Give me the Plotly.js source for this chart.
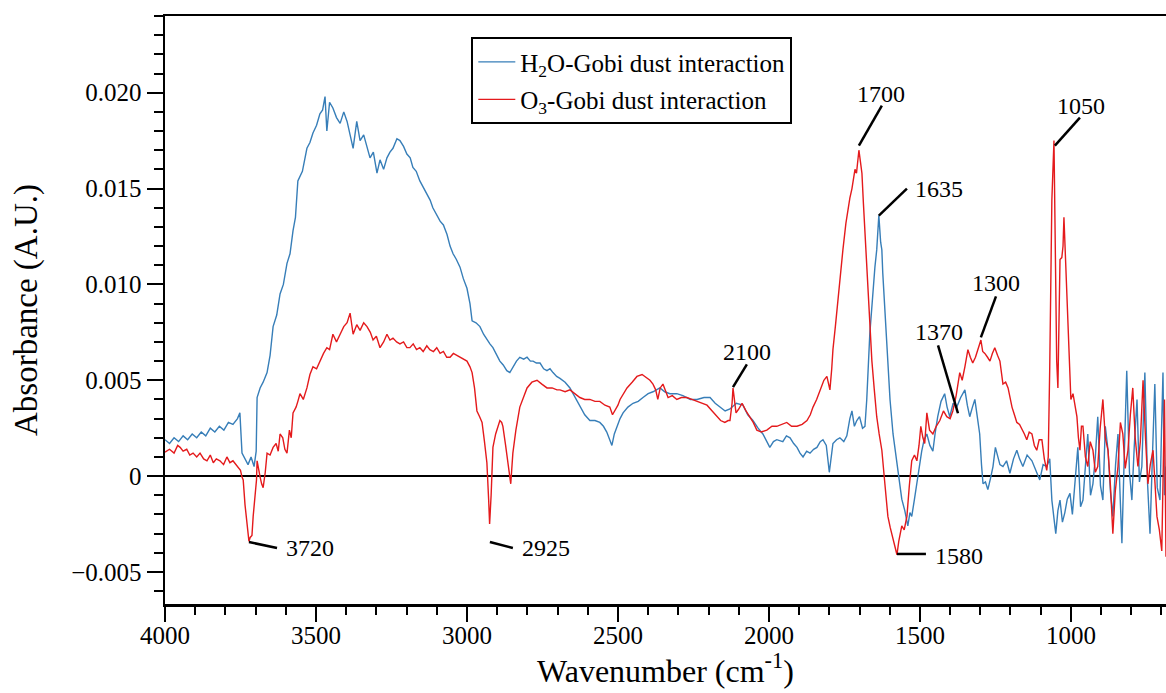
<!DOCTYPE html>
<html>
<head>
<meta charset="utf-8">
<script src="https://cdn.plot.ly/plotly-3.0.1.min.js"></script>
<style>
html,body{margin:0;padding:0;background:#fff;}
#chart{width:1166px;height:693px;}
</style>
</head>
<body>
<div id="chart"></div>
<script>
// H2O-Gobi dust interaction spectrum (wavenumber, absorbance)
var wnH2O = [
4000,3985,3970,3955,3940,3925,3910,3895,3880,3865,
3850,3835,3820,3805,3790,3775,3760,3752,3745,3735,
3725,3715,3705,3698,3695,3685,3675,3662,3652,3642,
3630,3619,3608,3596,3586,3576,3568,3560,3545,3530,
3520,3510,3498,3487,3478,3470,3464,3455,3444,3432,
3420,3408,3397,3387,3377,3365,3354,3342,3331,3321,
3310,3298,3288,3276,3265,3255,3245,3232,3222,3210,
3199,3188,3179,3168,3156,3145,3132,3122,3113,3100,
3089,3078,3066,3056,3046,3035,3023,3012,3000,2990,
2983,2970,2957,2945,2934,2924,2914,2902,2891,2880,
2868,2858,2848,2836,2825,2812,2801,2790,2781,2770,
2758,2746,2735,2725,2715,2703,2692,2675,2659,2642,
2626,2610,2593,2576,2560,2548,2537,2528,2520,2512,
2503,2493,2483,2467,2450,2433,2417,2400,2384,2372,
2361,2345,2328,2305,2285,2260,2238,2215,2195,2178,
2162,2145,2129,2108,2086,2070,2053,2036,2020,2008,
1997,1985,1974,1954,1942,1930,1918,1907,1897,1887,
1875,1864,1852,1841,1830,1821,1810,1800,1795,1788,
1776,1765,1752,1742,1732,1725,1717,1709,1700,1690,
1682,1676,1666,1656,1649,1643,1636,1630,1626,1623,
1617,1610,1605,1599,1589,1581,1573,1566,1560,1550,
1545,1540,1533,1527,1518,1510,1502,1494,1486,1477,
1467,1457,1449,1441,1430,1418,1410,1401,1390,1378,
1365,1351,1343,1335,1326,1318,1310,1302,1296,1291,
1283,1275,1266,1258,1250,1245,1235,1225,1213,1202,
1190,1179,1170,1159,1145,1129,1115,1103,1092,1080,
1070,1063,1056,1050,1043,1036,1028,1020,1012,1003,
995,987,977,968,960,952,944,935,927,919,
911,902,894,886,877,869,861,852,844,837,
831,823,815,806,798,790,781,773,765,760,
755,746,738,730,722,714,705,700,695,690,
685];
var absH2O = [
0.0019,0.0017,0.0020,0.0018,0.0021,0.0019,0.0022,0.0020,0.0023,0.0021,
0.0025,0.0023,0.0026,0.0024,0.0028,0.0027,0.0030,0.0033,0.0012,0.0009,
0.0006,0.0010,0.0005,0.0013,0.0041,0.0046,0.0049,0.0054,0.0063,0.0078,
0.0084,0.0095,0.0100,0.0111,0.0116,0.0128,0.0135,0.0154,0.0159,0.0171,
0.0174,0.0179,0.0183,0.0189,0.0191,0.0198,0.0180,0.0195,0.0192,0.0187,
0.0184,0.0190,0.0185,0.0178,0.0171,0.0185,0.0175,0.0178,0.0171,0.0166,
0.0169,0.0158,0.0165,0.0160,0.0166,0.0169,0.0171,0.0176,0.0175,0.0172,
0.0168,0.0166,0.0161,0.0159,0.0154,0.0151,0.0147,0.0144,0.0140,0.0136,
0.0133,0.0131,0.0126,0.0120,0.0116,0.0113,0.0109,0.0103,0.0098,0.0090,
0.0081,0.0080,0.0078,0.0074,0.0071,0.0069,0.0067,0.0063,0.0060,0.0058,
0.0055,0.0054,0.0057,0.0060,0.0062,0.0061,0.0062,0.0060,0.0060,0.0059,
0.0059,0.0056,0.0055,0.0056,0.0054,0.0052,0.0051,0.0049,0.0046,0.0041,
0.0036,0.0032,0.0029,0.0029,0.0028,0.0026,0.0023,0.0019,0.0016,0.0022,
0.0026,0.0030,0.0033,0.0036,0.0038,0.0039,0.0041,0.0043,0.0044,0.0045,
0.0046,0.0044,0.0043,0.0043,0.0042,0.0040,0.0040,0.0041,0.0041,0.0038,
0.0036,0.0034,0.0035,0.0038,0.0037,0.0032,0.0029,0.0025,0.0022,0.0018,
0.0015,0.0018,0.0019,0.0018,0.0021,0.0020,0.0017,0.0015,0.0012,0.0010,
0.0013,0.0012,0.0014,0.0015,0.0018,0.0019,0.0016,0.0002,0.0008,0.0017,
0.0019,0.0020,0.0018,0.0021,0.0030,0.0034,0.0026,0.0029,0.0031,0.0025,
0.0026,0.0040,0.0074,0.0097,0.0109,0.0118,0.0136,0.0122,0.0118,0.0106,
0.0090,0.0074,0.0058,0.0040,0.0022,0.0012,0.0005,-0.0006,-0.0012,-0.0018,
-0.0023,-0.0026,-0.0019,-0.0021,-0.0012,-0.0004,0.0006,0.0013,0.0019,0.0022,
0.0016,0.0013,0.0023,0.0031,0.0039,0.0043,0.0036,0.0031,0.0038,0.0036,
0.0041,0.0045,0.0037,0.0031,0.0036,0.0040,0.0031,0.0022,0.0006,-0.0004,
-0.0003,-0.0007,-0.0001,0.0005,0.0015,0.0012,0.0006,0.0005,0.0008,0.00015,
0.0009,0.00135,0.0009,0.0005,0.0011,0.0008,0.0003,-0.0002,0.0006,0.0005,
0.0009,-0.00125,-0.0022,-0.0030,-0.0018,-0.00125,-0.0024,-0.0019,-0.0012,-0.0009,
-0.0020,-0.0004,0.0015,-0.0016,-0.00125,0.0005,0.0022,-0.0010,-0.0004,0.0010,
0.0031,-0.0005,-0.00125,0.0026,0.00135,-0.0008,-0.0021,0.0006,0.0022,-0.0010,
-0.0035,0.0012,0.0055,0.0002,-0.00125,0.0016,0.0040,-0.0003,0.0005,0.0030,
0.0054,-0.0004,-0.0030,0.0010,0.0048,-0.0006,-0.00125,0.0023,0.0054,-0.0010,
0.0005];

// O3-Gobi dust interaction spectrum (wavenumber, absorbance)
var wnO3 = [
4000,3985,3970,3958,3950,3940,3928,3918,3907,3895,
3884,3872,3861,3850,3840,3830,3818,3806,3795,3785,
3775,3765,3758,3750,3745,3741,3735,3728,3722,3718,
3712,3708,3702,3697,3695,3690,3685,3680,3675,3668,
3662,3652,3642,3632,3625,3619,3610,3603,3596,3588,
3582,3576,3566,3560,3553,3542,3530,3520,3510,3498,
3487,3475,3464,3455,3444,3432,3420,3408,3397,3387,
3377,3365,3354,3342,3331,3320,3311,3300,3288,3276,
3265,3255,3245,3233,3222,3210,3199,3189,3178,3167,
3156,3145,3133,3123,3111,3100,3089,3078,3067,3056,
3045,3034,3023,3011,3000,2990,2983,2975,2967,2958,
2950,2942,2934,2928,2925,2920,2914,2905,2891,2885,
2881,2872,2864,2858,2855,2848,2838,2825,2812,2801,
2785,2768,2752,2735,2718,2702,2692,2675,2659,2642,
2626,2610,2593,2576,2560,2543,2527,2518,2510,2500,
2493,2482,2470,2453,2437,2420,2404,2394,2384,2375,
2368,2360,2351,2342,2334,2320,2305,2290,2272,2255,
2238,2222,2205,2188,2172,2160,2146,2135,2129,2122,
2119,2114,2109,2100,2089,2076,2063,2052,2040,2025,
2007,1990,1974,1958,1941,1925,1907,1890,1874,1863,
1854,1842,1831,1818,1808,1798,1792,1788,1780,1772,
1763,1755,1745,1738,1732,1725,1715,1710,1705,1702,
1697,1692,1687,1682,1677,1672,1665,1659,1651,1643,
1635,1626,1616,1606,1598,1589,1582,1576,1570,1565,
1560,1552,1543,1535,1527,1518,1510,1503,1497,1490,
1484,1477,1468,1457,1446,1434,1422,1411,1400,1391,
1380,1368,1360,1351,1341,1333,1325,1316,1308,1298,
1292,1285,1276,1268,1260,1252,1243,1235,1225,1216,
1208,1200,1195,1187,1179,1170,1162,1154,1146,1138,
1129,1121,1113,1105,1096,1088,1080,1075,1070,1063,
1056,1050,1047,1043,1040,1036,1030,1026,1023,1017,
1010,1003,1000,993,986,980,975,970,965,960,
952,944,936,927,919,911,903,894,886,877,
869,861,853,844,836,828,820,811,803,795,
787,778,770,761,753,745,737,728,721,715,
707,699,694,690,687,685];
var absO3 = [
0.00125,0.0014,0.0012,0.0016,0.0015,0.0013,0.0014,0.0011,0.0012,0.0010,
0.0012,0.0009,0.0008,0.0011,0.0007,0.0009,0.0008,0.0006,0.0010,0.0007,
0.0008,0.0006,0.0005,0.0003,-0.00005,-0.0002,-0.0015,-0.0026,-0.0034,-0.0032,
-0.0031,-0.0021,-0.0010,-0.0002,0.0008,0.0003,-0.00005,-0.0004,-0.0006,0.0002,
0.0012,0.0011,0.0015,0.0017,0.0013,0.0022,0.0020,0.0014,0.0012,0.0024,
0.0020,0.0033,0.0036,0.0039,0.0043,0.0040,0.0046,0.0053,0.0057,0.0056,
0.0060,0.0064,0.0067,0.0066,0.0074,0.0070,0.0074,0.0078,0.0080,0.0085,
0.0074,0.0079,0.0076,0.0080,0.0078,0.0075,0.0071,0.0073,0.0067,0.0070,
0.0074,0.0071,0.0072,0.0070,0.0069,0.0070,0.0067,0.0067,0.0069,0.0066,
0.0067,0.0065,0.0068,0.0066,0.0065,0.0067,0.0064,0.0065,0.0062,0.0062,
0.0064,0.0063,0.0062,0.0061,0.0060,0.0057,0.0054,0.0046,0.0034,0.0031,
0.0028,0.0018,0.0007,-0.0013,-0.0025,-0.0010,0.0015,0.0022,0.0029,0.0028,
0.0026,0.0016,0.0007,-0.0002,-0.0004,0.0012,0.0024,0.0036,0.0042,0.0046,
0.0049,0.0050,0.0048,0.0046,0.0046,0.0045,0.0045,0.0044,0.0045,0.0043,
0.0041,0.0040,0.0040,0.0039,0.0039,0.0037,0.0036,0.0032,0.0034,0.0037,
0.0040,0.0043,0.0046,0.0049,0.0052,0.0053,0.0051,0.0050,0.0048,0.0045,
0.0040,0.0046,0.0048,0.0044,0.0041,0.0042,0.0040,0.0041,0.0041,0.0040,
0.0039,0.0038,0.0037,0.0034,0.0031,0.0029,0.0028,0.0029,0.0029,0.0038,
0.0046,0.0040,0.0033,0.0035,0.0038,0.0034,0.0031,0.0028,0.0024,0.0023,
0.0024,0.0026,0.0026,0.0027,0.0028,0.0026,0.0026,0.0027,0.0029,0.0032,
0.0036,0.0040,0.0045,0.0050,0.0052,0.0045,0.0056,0.0066,0.0078,0.0092,
0.0105,0.0118,0.0132,0.0140,0.0145,0.0150,0.0160,0.0158,0.0166,0.0170,
0.0164,0.0158,0.0142,0.0127,0.0108,0.0092,0.0075,0.0060,0.0045,0.0031,
0.0022,0.00135,-0.0004,-0.0021,-0.0027,-0.0033,-0.0038,-0.0041,-0.0034,-0.0029,
-0.0026,-0.0028,-0.0021,-0.0005,0.0008,0.0011,0.0008,0.0016,0.0026,0.0020,
0.0017,0.0033,0.0024,0.0022,0.0026,0.0029,0.0034,0.0031,0.0030,0.0034,
0.0042,0.0054,0.0050,0.0057,0.0066,0.0062,0.0059,0.0062,0.0066,0.0071,
0.0065,0.0064,0.0062,0.0060,0.0064,0.0067,0.0063,0.0060,0.0048,0.0049,
0.0046,0.0040,0.0036,0.0032,0.0028,0.0027,0.0024,0.0022,0.0019,0.0023,
0.0022,0.0016,0.00135,0.0019,0.0019,0.0009,0.0003,0.0010,0.0057,0.0144,
0.0175,0.0109,0.0060,0.0046,0.0080,0.0113,0.0114,0.0120,0.0135,0.0109,
0.0074,0.0050,0.0040,0.0043,0.0035,0.0031,0.0020,0.00135,0.0026,0.0026,
0.0010,0.0005,0.0018,0.00135,0.0002,0.0005,0.0025,0.0040,0.0020,0.00135,
-0.0005,-0.0030,-0.0008,0.0005,0.0028,0.0022,0.0004,0.00135,0.0032,0.0046,
0.0020,0.0005,0.0018,0.0050,0.0020,-0.0004,0.0006,0.00135,-0.0005,-0.0021,
-0.0028,-0.0039,0.0005,0.0040,-0.0010,-0.0042];

var seriesNames = ["H<sub>2</sub>O-Gobi dust interaction", "O<sub>3</sub>-Gobi dust interaction"];
var seriesColors = ["#377eb8", "#e41a1c"];

// axis ticks
var xTickVals = [4000, 3500, 3000, 2500, 2000, 1500, 1000];
var xTickText = ["4000", "3500", "3000", "2500", "2000", "1500", "1000"];
var yTickVals = [-0.005, 0, 0.005, 0.010, 0.015, 0.020];
var yTickText = ["\u22120.005", "0", "0.005", "0.010", "0.015", "0.020"];

// peak labels and their leader lines (data coordinates)
var peakLabels = ["1700", "1635", "1050", "1300", "1370", "2100", "1580", "3720", "2925"];
var labelX = [1629, 1437, 967, 1248, 1437, 2073, 1371, 3520, 2738];
var labelY = [0.01995, 0.0150, 0.01932, 0.01005, 0.0075, 0.00646, -0.00417, -0.00375, -0.00375];
var leaderX0 = [1702, 1636, 1053, 1298, 1374, 2119, 1576, 3722, 2924];
var leaderY0 = [0.01724, 0.01359, 0.01724, 0.00724, 0.00328, 0.00464, -0.00406, -0.00344, -0.00344];
var leaderX1 = [1626, 1543, 970, 1248, 1440, 2073, 1480, 3629, 2848];
var leaderY1 = [0.01932, 0.0150, 0.0187, 0.009375, 0.00682, 0.00583, -0.00406, -0.00375, -0.00375];

var FONT = "Liberation Serif";

var traces = [
  {x: wnH2O, y: absH2O, type: "scatter", mode: "lines", name: seriesNames[0],
   line: {color: seriesColors[0], width: 1.4}, legendgroup: "a"},
  {x: wnO3, y: absO3, type: "scatter", mode: "lines", name: seriesNames[1],
   line: {color: seriesColors[1], width: 1.4}, legendgroup: "b"}
];

var annotations = peakLabels.map(function (t, i) {
  return {x: labelX[i], y: labelY[i], xref: "x", yref: "y", text: t, showarrow: false,
          xanchor: "center", yanchor: "middle", font: {family: FONT, size: 24, color: "#000"}};
});
var shapes = peakLabels.map(function (t, i) {
  return {type: "line", xref: "x", yref: "y", x0: leaderX0[i], y0: leaderY0[i],
          x1: leaderX1[i], y1: leaderY1[i], line: {color: "#000", width: 2.5}};
});

var layout = {
  width: 1166, height: 693,
  margin: {l: 165, r: 0, t: 16, b: 89},
  paper_bgcolor: "#fff", plot_bgcolor: "#fff",
  font: {family: FONT, color: "#000"},
  showlegend: true,
  legend: {x: 0.306, y: 0.964, xanchor: "left", yanchor: "top",
           bordercolor: "#000", borderwidth: 2, bgcolor: "#fff",
           font: {family: FONT, size: 25, color: "#000"}, tracegroupgap: 2, itemwidth: 37},
  xaxis: {
    range: [4000, 685],
    tickmode: "array", tickvals: xTickVals, ticktext: xTickText,
    ticks: "outside", ticklen: 15, tickwidth: 2, tickcolor: "#000",
    ticklabelstandoff: -8,
    minor: {tickmode: "linear", tick0: 0, dtick: 100, ticks: "outside", ticklen: 8, tickwidth: 2, tickcolor: "#000", showgrid: false},
    showline: true, linewidth: 2.5, linecolor: "#000", mirror: true,
    showgrid: false, zeroline: false,
    tickfont: {family: FONT, size: 25, color: "#000"},
    title: {text: "Wavenumber (cm<sup>-1</sup>)", font: {family: FONT, size: 32, color: "#000"}, standoff: 10}
  },
  yaxis: {
    range: [-0.00667, 0.024],
    tickmode: "array", tickvals: yTickVals, ticktext: yTickText,
    ticks: "outside", ticklen: 16, tickwidth: 2, tickcolor: "#000",
    minor: {tickmode: "linear", tick0: 0, dtick: 0.001, ticks: "outside", ticklen: 9, tickwidth: 2, tickcolor: "#000", showgrid: false},
    showline: true, linewidth: 2.5, linecolor: "#000", mirror: false,
    showgrid: false, zeroline: true, zerolinecolor: "#000", zerolinewidth: 1.8,
    tickfont: {family: FONT, size: 25, color: "#000"},
    title: {text: "Absorbance (A.U.)", font: {family: FONT, size: 33, color: "#000"}, standoff: 24}
  },
  annotations: annotations,
  shapes: shapes
};

Plotly.newPlot("chart", traces, layout, {displayModeBar: false, staticPlot: true});
</script>
</body>
</html>
